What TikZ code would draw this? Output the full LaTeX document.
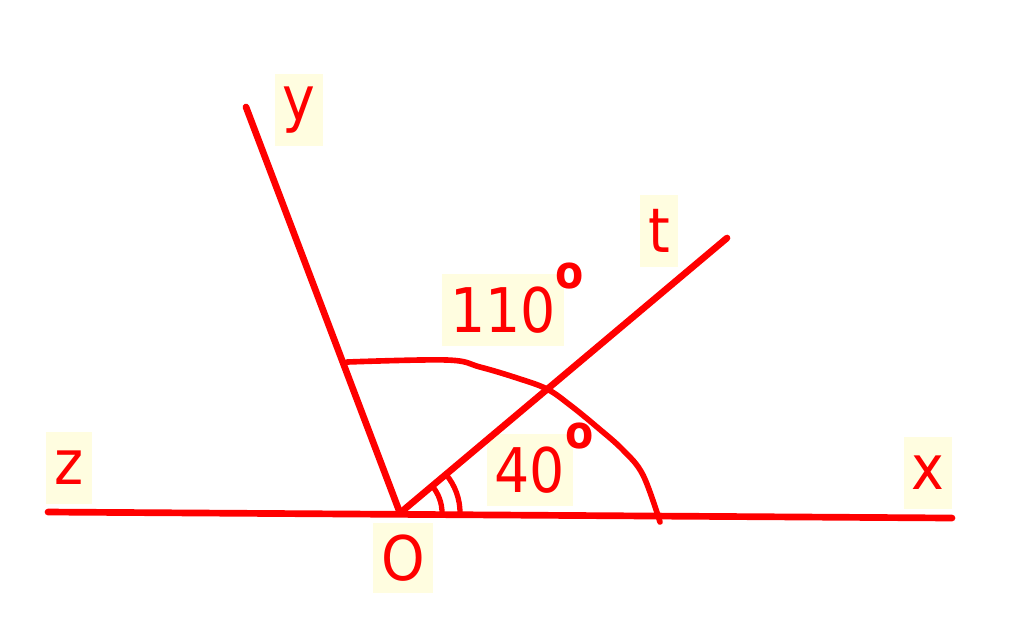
\documentclass[tikz,border=0pt]{standalone}
\usepackage{fontspec}
\setmainfont{DejaVu Sans Condensed}
\usetikzlibrary{calc}
\definecolor{lblbg}{HTML}{FFFDE0}
\newcommand{\degmark}{\rlap{\smash{\raisebox{0.72em}{\fontsize{13}{13}\selectfont\bfseries o}}}}

\begin{document}
\begin{tikzpicture}[
    x=0.01cm, y=-0.01cm,
    ray/.style={draw=red, line width=1.9pt, line cap=round},
    lbl/.style={fill=lblbg, text=red, font=\fontsize{17.5}{20}\selectfont, minimum height=0.72cm, inner xsep=0.08cm}
]
\useasboundingbox (0,0) rectangle (1024,617);

% points of the figure
\coordinate (O) at (400,513);
\coordinate (Z) at (48,512);
\coordinate (X) at (952,518);
\coordinate (Y) at (246,107);
\coordinate (T) at (727,238);

% labels
\node[lbl] (ylbl) at (299,110) {y};
\node[lbl] (tlbl) at (659,231) {t};
\node[lbl] (zlbl) at (69,468) {z};
\node[lbl] (xlbl) at (928,473) {x};
\node[lbl, minimum height=0.6cm] (olbl) at (403,558) {O};
\node[lbl] (big) at (503,310) {110\degmark};
\node[lbl] (small) at (530,470) {40\degmark};

% rays
\draw[ray] (Z) -- (X);
\draw[ray] (O) -- (Y);
\draw[ray] (O) -- (T);

% angle yOx
\draw[ray, line width=1.6pt] plot[smooth, tension=0.6] coordinates {(347,362) (447,360) (480,367) (517,378) (547,389) (570,405) (597,427) (623,450) (643,475) (660,522)};

% angle xOt
\draw[ray, line width=1.5pt] ($(O)+(0.42cm,0)$) arc[start angle=0, end angle=40, radius=0.42cm];
\draw[ray, line width=1.5pt] ($(O)+(0.6cm,0)$) arc[start angle=0, end angle=40, radius=0.6cm];

\end{tikzpicture}
\end{document}
